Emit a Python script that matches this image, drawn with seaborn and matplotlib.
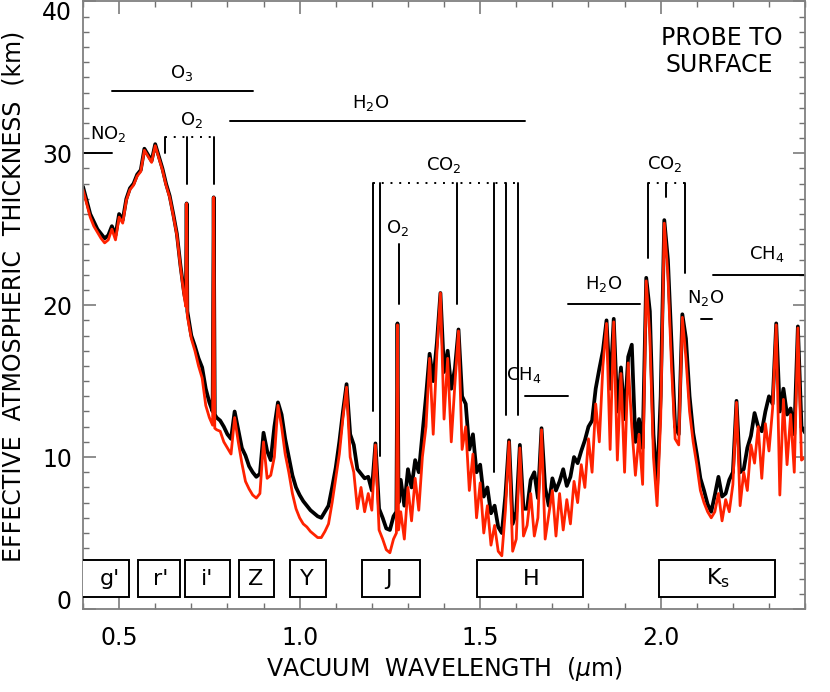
import numpy as np
import matplotlib
matplotlib.use("Agg")
import matplotlib.pyplot as plt
from matplotlib.patches import Rectangle
from matplotlib.ticker import MultipleLocator
import seaborn as sns

sns.set_style("ticks")
plt.rcParams["font.family"] = ["DejaVu Sans"]
plt.rcParams["mathtext.fontset"] = "dejavusans"
plt.rcParams["text.color"] = "black"
plt.rcParams["axes.labelcolor"] = "black"

# ---- data (km vs micron) ----
wavelength = [
    0.40, 0.41, 0.42, 0.43, 0.44, 0.45, 0.46, 0.47, 0.48, 0.49,
    0.50, 0.51, 0.52, 0.53, 0.54, 0.55, 0.56, 0.57, 0.58, 0.59,
    0.60, 0.61, 0.62, 0.63, 0.64, 0.65, 0.66, 0.67, 0.68, 0.685, 0.687, 0.689,
    0.70, 0.71, 0.72, 0.73, 0.74, 0.75, 0.759, 0.762, 0.765, 0.77, 0.78, 0.79,
    0.80, 0.81, 0.82, 0.83, 0.84, 0.85, 0.86, 0.87, 0.88, 0.89,
    0.90, 0.91, 0.92, 0.93, 0.94, 0.95, 0.96, 0.97, 0.98, 0.99,
    1.00, 1.01, 1.02, 1.03, 1.04, 1.05, 1.06, 1.07, 1.08, 1.09,
    1.10, 1.11, 1.12, 1.13, 1.14, 1.15, 1.16, 1.17, 1.18, 1.19,
    1.20, 1.21, 1.22, 1.23, 1.24, 1.25, 1.26, 1.268, 1.271, 1.274, 1.28, 1.29,
    1.30, 1.31, 1.32, 1.33, 1.34, 1.35, 1.36, 1.37, 1.38, 1.39,
    1.40, 1.41, 1.42, 1.43, 1.44, 1.45, 1.46, 1.47, 1.48, 1.49,
    1.50, 1.51, 1.52, 1.53, 1.54, 1.55, 1.56, 1.57, 1.58, 1.59,
    1.60, 1.61, 1.62, 1.63, 1.64, 1.65, 1.66, 1.67, 1.68, 1.69,
    1.70, 1.71, 1.72, 1.73, 1.74, 1.75, 1.76, 1.77, 1.78, 1.79,
    1.80, 1.81, 1.82, 1.83, 1.84, 1.85, 1.86, 1.87, 1.88, 1.89,
    1.90, 1.91, 1.92, 1.93, 1.94, 1.95, 1.96, 1.97, 1.98, 1.99,
    2.00, 2.01, 2.02, 2.03, 2.04, 2.05, 2.06, 2.07, 2.08, 2.09,
    2.10, 2.11, 2.12, 2.13, 2.14, 2.15, 2.16, 2.17, 2.18, 2.19,
    2.20, 2.21, 2.22, 2.23, 2.24, 2.25, 2.26, 2.27, 2.28, 2.29,
    2.30, 2.31, 2.32, 2.33, 2.34, 2.35, 2.36, 2.37, 2.38, 2.39,
    2.40,
]

# black curve
thick_black = [
    27.8, 26.9, 26.0, 25.5, 25.0, 24.7, 24.4, 24.6, 25.2, 24.6,
    26.0, 25.6, 27.0, 27.7, 28.0, 28.6, 28.9, 30.3, 29.9, 29.5,
    30.6, 29.8, 29.0, 28.0, 27.2, 26.0, 24.7, 22.6, 20.8, 20.2, 26.7, 19.6,
    18.0, 17.3, 16.5, 15.9, 14.5, 13.6, 13.0, 27.1, 12.8, 12.6, 12.4, 12.0,
    11.5, 11.2, 13.0, 11.8, 10.6, 10.1, 9.4, 9.0, 8.7, 8.9,
    11.6, 10.4, 9.8, 12.0, 13.6, 12.8, 11.2, 10.0, 8.8, 8.0,
    7.5, 7.1, 6.8, 6.5, 6.3, 6.1, 6.0, 6.4, 6.8, 8.0,
    9.3, 11.0, 13.0, 14.8, 11.5, 10.8, 9.2, 8.9, 8.6, 8.7,
    7.8, 10.9, 6.6, 6.0, 5.3, 5.2, 6.1, 6.4, 18.8, 7.0, 8.5, 6.8,
    9.2, 8.0, 9.8, 9.0, 11.5, 14.0, 16.8, 15.0, 17.5, 20.8,
    15.6, 17.0, 14.5, 15.8, 18.4, 14.0, 13.5, 10.5, 11.5, 9.0,
    9.5, 7.4, 8.0, 6.3, 6.8, 5.4, 5.0, 7.5, 11.1, 5.6,
    6.4, 10.8, 6.6, 6.6, 8.5, 9.0, 7.3, 11.9, 8.0, 6.8,
    8.6, 7.8, 8.4, 9.2, 8.1, 8.7, 10.0, 9.6, 10.4, 11.1,
    12.0, 12.4, 14.5, 15.8, 17.0, 19.0, 14.5, 19.1, 13.0, 15.9,
    12.5, 16.6, 17.4, 11.0, 12.5, 10.6, 21.8, 19.6, 11.5, 8.0,
    14.0, 25.6, 23.0, 17.5, 12.0, 11.5, 19.4, 17.8, 14.0, 11.6,
    10.2, 8.6, 7.8, 6.9, 6.4, 7.5, 8.7, 7.4, 7.6, 8.5,
    9.0, 13.7, 9.0, 9.2, 10.6, 11.4, 12.9, 12.0, 11.7, 13.0,
    14.0, 13.5, 18.8, 13.0, 14.5, 12.8, 13.2, 11.5, 18.6, 12.0,
    11.6,
]

# red curve
thick_red = [
    27.6, 26.7, 25.8, 25.2, 24.8, 24.4, 24.1, 24.3, 25.0, 24.3,
    25.8, 25.4, 26.9, 27.6, 27.9, 28.5, 28.8, 30.2, 29.8, 29.4,
    30.5, 29.7, 28.9, 27.9, 27.1, 25.9, 24.6, 22.5, 20.6, 19.9, 26.7, 19.3,
    17.8, 17.0, 16.0, 15.2, 13.4, 12.6, 12.1, 27.1, 11.9, 11.8, 11.7, 11.0,
    10.6, 10.2, 12.6, 11.0, 9.6, 8.4, 7.9, 7.5, 7.3, 7.6,
    11.0, 8.6, 8.8, 10.0, 13.4, 12.0, 10.2, 9.0, 7.6, 6.6,
    6.0, 5.6, 5.4, 5.1, 4.9, 4.7, 4.7, 5.1, 5.6, 7.0,
    8.6, 10.2, 12.6, 14.6, 10.0, 9.0, 6.6, 8.0, 6.4, 7.6,
    6.5, 10.8, 5.2, 4.6, 3.9, 3.7, 4.6, 5.0, 18.7, 5.2, 6.4, 4.6,
    8.0, 5.8, 8.6, 6.5, 10.0, 12.0, 16.5, 11.5, 16.8, 20.8,
    12.5, 16.5, 11.0, 14.8, 18.3, 10.5, 12.0, 7.8, 10.2, 6.0,
    8.3, 5.0, 6.8, 4.2, 5.5, 3.8, 3.5, 6.5, 11.0, 3.8,
    4.6, 10.6, 4.8, 5.5, 7.6, 4.8, 6.0, 11.8, 4.6, 6.2,
    7.8, 4.8, 7.6, 5.2, 7.2, 5.6, 8.4, 7.0, 9.5, 8.0,
    11.2, 9.0, 13.5, 11.0, 16.0, 18.8, 10.5, 18.9, 9.8, 15.5,
    9.0, 16.2, 12.0, 8.8, 11.5, 8.2, 21.6, 18.0, 10.0, 6.8,
    12.5, 25.4, 22.0, 16.0, 11.2, 10.8, 19.2, 16.5, 13.0, 11.0,
    9.5, 7.8, 7.0, 6.4, 6.0, 6.4, 7.6, 5.8, 7.2, 6.4,
    8.2, 13.6, 6.8, 9.0, 7.8, 10.8, 9.6, 12.0, 8.6, 12.2,
    10.4, 13.2, 18.7, 7.5, 13.8, 9.5, 12.8, 9.0, 18.5, 9.8,
    10.0,
]

# filter bands at the bottom
band_names = ["g'", "r'", "i'", "Z", "Y", "J", "H", "K$_\\mathregular{s}$"]
band_lo = [0.39, 0.553, 0.683, 0.831, 0.972, 1.172, 1.492, 1.994]
band_hi = [0.528, 0.669, 0.808, 0.928, 1.072, 1.333, 1.786, 2.317]
band_label_x = [0.475, 0.614, 0.744, 0.878, 1.021, 1.245, 1.642, 2.160]

# absorber bars: label, label x, label y, bar start, bar end, bar height
mol_names = ["NO$_2$", "O$_3$", "H$_2$O", "CH$_4$", "H$_2$O", "N$_2$O", "CH$_4$"]
mol_label_x = [0.469, 0.672, 1.197, 1.622, 1.843, 2.124, 2.293]
mol_label_y = [31.3, 35.3, 33.3, 15.4, 21.4, 20.5, 23.4]
mol_lo = [0.40, 0.481, 0.808, 1.623, 1.742, 2.111, 2.144]
mol_hi = [0.479, 0.872, 1.623, 1.742, 1.944, 2.142, 2.40]
mol_y = [30.0, 34.1, 32.1, 14.0, 20.1, 19.1, 22.0]

# bracketed line groups (dotted top, solid drops)
o2_lines = [0.628, 0.688, 0.762]
o2_bottom = [30.0, 28.0, 28.0]
co2a_lines = [1.2036, 1.223, 1.435, 1.538, 1.572, 1.605]
co2a_bottom = [13.0, 10.1, 20.1, 9.0, 12.8, 12.8]
co2b_lines = [1.964, 2.015, 2.067]
co2b_bottom = [23.1, 27.1, 22.1]

fig = plt.figure(figsize=(8.3, 6.92), dpi=100)
ax = fig.add_axes([0.1, 0.12, 0.87, 0.878])

sns.lineplot(x=wavelength, y=thick_black, color="black", lw=2.7, ax=ax)
sns.lineplot(x=wavelength, y=thick_red, color="#ff2200", lw=2.0, ax=ax)

ax.set_xlim(0.4, 2.4)
ax.set_ylim(0, 40)

fs_mol = 13
for name, lx, ly, a, b, yy in zip(mol_names, mol_label_x, mol_label_y, mol_lo, mol_hi, mol_y):
    ax.plot([a, b], [yy, yy], color="black", lw=1.4)
    ax.text(lx, ly, name, fontsize=fs_mol, ha="center", va="center")

def bracket(xs, bottoms, top):
    ax.plot([xs[0], xs[-1]], [top, top], color="black", lw=1.4, ls=(0, (1, 3.5)))
    for xv, bv in zip(xs, bottoms):
        ax.plot([xv, xv], [top, bv], color="black", lw=1.4)

bracket(o2_lines, o2_bottom, 31.05)
ax.text(0.700, 32.2, "O$_2$", fontsize=fs_mol, ha="center", va="center")
bracket(co2a_lines, co2a_bottom, 28.05)
ax.text(1.399, 29.2, "CO$_2$", fontsize=fs_mol, ha="center", va="center")
bracket(co2b_lines, co2b_bottom, 28.05)
ax.text(2.011, 29.3, "CO$_2$", fontsize=fs_mol, ha="center", va="center")
# the 1.27 micron O2 line
ax.plot([1.274, 1.274], [24.0, 20.1], color="black", lw=1.4)
ax.text(1.2705, 25.1, "O$_2$", fontsize=fs_mol, ha="center", va="center")

for name, a, b, lx in zip(band_names, band_lo, band_hi, band_label_x):
    ax.add_patch(Rectangle((a, 0.79), b - a, 2.43, fill=True, facecolor="white",
                           edgecolor="black", lw=1.4, zorder=3))
    ax.text(lx, 2.0, name, fontsize=16, ha="center", va="center", zorder=4)

ax.text(2.169, 37.6, "PROBE TO", fontsize=17, ha="center", va="center")
ax.text(2.163, 35.8, "SURFACE", fontsize=17, ha="center", va="center")

# axes styling
ax.set_xticks([0.5, 1.0, 1.5, 2.0])
ax.set_xticklabels(["0.5", "1.0", "1.5", "2.0"])
ax.set_yticks([0, 10, 20, 30, 40])
ax.set_yticklabels(["0", "10", "20", "30", "40"])
ax.xaxis.set_minor_locator(MultipleLocator(0.1))
ax.yaxis.set_minor_locator(MultipleLocator(1))
ax.tick_params(which="both", direction="in", top=True, right=True,
               color="#707070", labelsize=17, labelcolor="black")
ax.tick_params(which="major", length=9, width=1.1)
ax.tick_params(which="minor", length=4.5, width=1.0)
ax.tick_params(axis="x", which="major", pad=12)
ax.tick_params(axis="y", which="major", pad=8)
yt = ax.yaxis.get_major_ticks()
yt[0].label1.set_verticalalignment("baseline")
yt[-1].label1.set_verticalalignment("top")
for s in ax.spines.values():
    s.set_color("#808080")
    s.set_linewidth(1.3)

ax.set_xlabel("VACUUM  WAVELENGTH  ($\\mu$m)", fontsize=17)
ax.set_ylabel("EFFECTIVE  ATMOSPHERIC  THICKNESS  (km)", fontsize=17)
ax.xaxis.set_label_coords(0.5, -0.075)
ax.yaxis.set_label_coords(-0.079, 0.515)

fig.savefig("out.png", dpi=100)
